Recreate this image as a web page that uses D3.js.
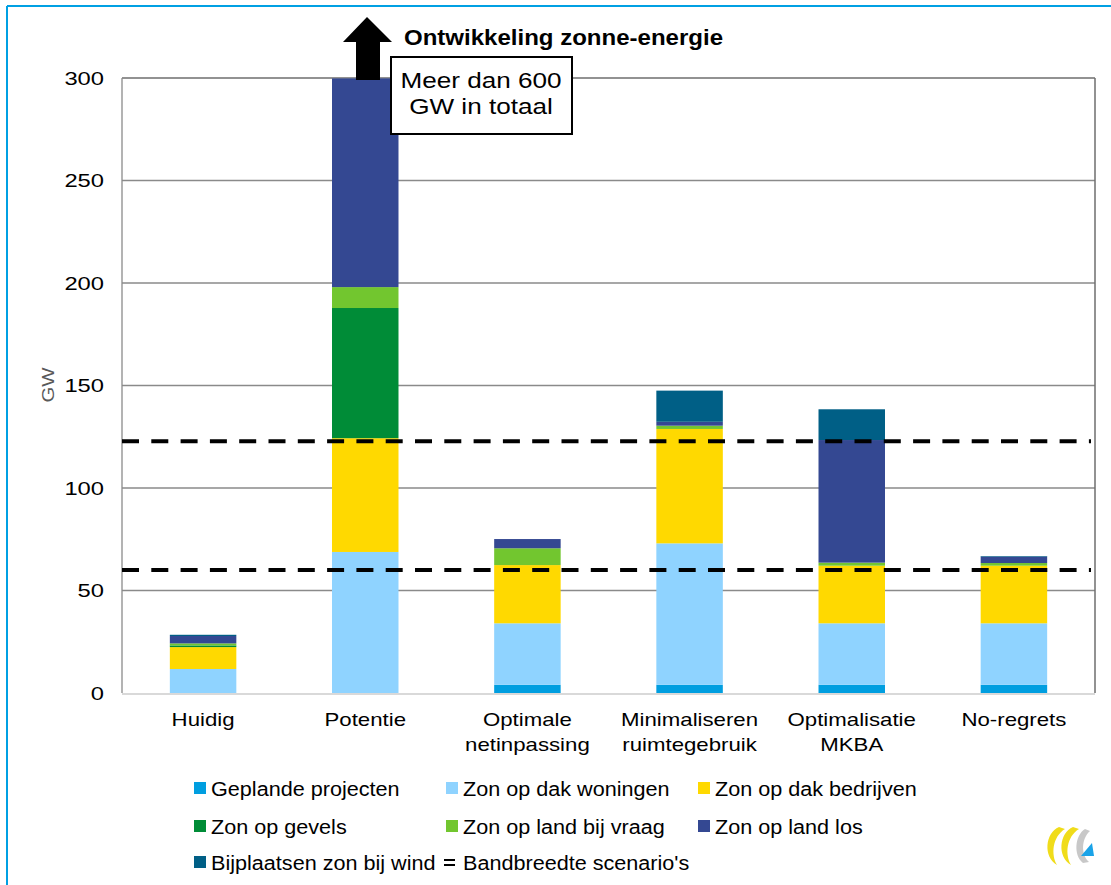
<!DOCTYPE html>
<html><head><meta charset="utf-8">
<script src="https://cdn.jsdelivr.net/npm/d3@7"></script>
<style>
body{margin:0;background:#fff;}
svg{display:block;font-family:"Liberation Sans",Arial,sans-serif;}
</style></head>
<body><svg id="chart" width="1111" height="885"></svg>
<script>
// ---------- data ----------
const categories = [["Huidig"],["Potentie"],["Optimale","netinpassing"],["Minimaliseren","ruimtegebruik"],["Optimalisatie","MKBA"],["No-regrets"]];
const seriesNames = ["Geplande projecten","Zon op dak woningen","Zon op dak bedrijven","Zon op gevels","Zon op land bij vraag","Zon op land los","Bijplaatsen zon bij wind"];
const geplande  = [0,    0,     4,    4,    4,    4];
const woningen  = [11.7, 68.8,  30,   69,   30,   30];
const bedrijven = [10.7, 55.5,  28.4, 55.8, 28.1, 28.1];
const gevels    = [0.8,  63.5,  0,    0,    0,    0];
const vraag     = [1.0,  10.2,  8.2,  1.6,  1.5,  1.3];
const los       = [3.6,  101.8, 4.5,  1.9,  59.8, 3.1];
const wind      = [0.6,  0,     0,    15.2, 15.0, 0.3];
const bandwidthLines = [60, 122.8];
const yTicks = [0, 50, 100, 150, 200, 250, 300];
const colors = ["#009ee0","#8fd3ff","#ffd900","#008c37","#72c62f","#344892","#005f86"];

// ---------- layout ----------
const svg = d3.select("#chart");
const L = 122, R = 1095, T = 78, B = 693;
const seriesVals = [geplande, woningen, bedrijven, gevels, vraag, los, wind];
const rows = categories.map((c,i)=>{ const o={cat:i}; seriesNames.forEach((s,j)=>o[s]=seriesVals[j][i]); return o; });
const stack = d3.stack().keys(seriesNames)(rows);

const x = d3.scaleBand().domain(d3.range(categories.length)).range([L,R]).paddingInner(0.59).paddingOuter(0.295);
const y = d3.scaleLinear().domain([0,300]).range([B,T]);

// horizontally stretch text to match wide rendering of reference
function stretch(sel, f){
  sel.each(function(){
    const w = this.getComputedTextLength();
    d3.select(this).attr("textLength", w*f).attr("lengthAdjust","spacingAndGlyphs");
  });
}

// outer frame
svg.append("line").attr("x1",7).attr("x2",1111).attr("y1",6).attr("y2",6).attr("stroke","#00a0e3").attr("stroke-width",2);
svg.append("line").attr("x1",7).attr("x2",7).attr("y1",6).attr("y2",885).attr("stroke","#00a0e3").attr("stroke-width",2);

// gridlines
svg.append("g").selectAll("line").data(yTicks.filter(d=>d>0)).join("line")
  .attr("x1",L).attr("x2",R).attr("y1",d=>y(d)).attr("y2",d=>y(d))
  .attr("stroke",d=>d===300?"#6e6e6e":"#8a8a8a").attr("stroke-width",1.3);
// plot border
svg.append("line").attr("x1",L).attr("x2",L).attr("y1",T).attr("y2",B).attr("stroke","#8a8a8a").attr("stroke-width",1.3);
svg.append("line").attr("x1",R).attr("x2",R).attr("y1",T).attr("y2",B).attr("stroke","#6e6e6e").attr("stroke-width",1.5);
svg.append("line").attr("x1",L).attr("x2",R).attr("y1",B+1).attr("y2",B+1).attr("stroke","#d9d9d9").attr("stroke-width",2);

// bars
svg.append("g").selectAll("g").data(stack).join("g").attr("fill",(d,i)=>colors[i])
  .selectAll("rect").data(d=>d).join("rect")
  .attr("x",d=>x(d.data.cat)).attr("width",x.bandwidth())
  .attr("y",d=>y(d[1])).attr("height",d=>Math.max(0,y(d[0])-y(d[1])));

// dashed bandwidth lines
svg.append("g").selectAll("line").data(bandwidthLines).join("line")
  .attr("x1",L).attr("x2",R-4).attr("y1",d=>y(d)).attr("y2",d=>y(d))
  .attr("stroke","#000").attr("stroke-width",3.8).attr("stroke-dasharray","17,12.3");

// y axis labels
const yAxis = svg.append("g").attr("transform",`translate(${L},0)`)
  .call(d3.axisLeft(y).tickValues(yTicks).tickSize(0).tickPadding(18));
yAxis.select(".domain").remove();
yAxis.selectAll("text").attr("font-size",19).attr("fill","#000").attr("font-family","Liberation Sans, Arial, sans-serif");
stretch(yAxis.selectAll("text"), 1.25);

const gw = svg.append("text").attr("transform","translate(54,385) rotate(-90)").attr("text-anchor","middle")
  .attr("font-size",17).attr("fill","#595959").text("GW");
stretch(gw, 1.2);

// category labels
const cl = svg.append("g");
categories.forEach((c,i)=>{
  c.forEach((line,k)=>{
    const t = cl.append("text").attr("x",x(i)+x.bandwidth()/2).attr("y",726+k*25).attr("text-anchor","middle")
      .attr("font-size",18.5).attr("fill","#000").text(line);
    stretch(t, 1.2);
  });
});

// arrow
svg.append("path").attr("d","M356,80 L380,80 L380,42 L392,42 L367,17 L343,42 L356,42 Z").attr("fill","#000");

// box
svg.append("rect").attr("x",391).attr("y",57).attr("width",181).attr("height",77).attr("fill","#fff").attr("stroke","#000").attr("stroke-width",2);
const b1 = svg.append("text").attr("x",481).attr("y",88).attr("text-anchor","middle").attr("font-size",22.5).text("Meer dan 600");
const b2 = svg.append("text").attr("x",481).attr("y",114).attr("text-anchor","middle").attr("font-size",22.5).text("GW in totaal");
stretch(b1, 1.16); stretch(b2, 1.16);

// title
svg.append("text").attr("x",404).attr("y",45).attr("font-size",22).attr("font-weight","bold")
  .attr("font-family","Liberation Sans Narrow, Arial Narrow, Liberation Sans, Arial, sans-serif")
  .attr("textLength",319).attr("lengthAdjust","spacingAndGlyphs").text("Ontwikkeling zonne-energie");

// legend
const legendItems = seriesNames.map((n,i)=>({name:n,color:colors[i]})).concat([{name:"Bandbreedte scenario's",dash:true}]);
const colX = [194, 446, 698], rowY = [789, 827, 863];
const lg = svg.append("g");
legendItems.forEach((d,i)=>{
  const cx = colX[i%3], cy = rowY[Math.floor(i/3)];
  if(d.dash){
    lg.append("rect").attr("x",cx-2).attr("y",cy-4).attr("width",11).attr("height",2).attr("fill","#000");
    lg.append("rect").attr("x",cx-2).attr("y",cy+1).attr("width",11).attr("height",2).attr("fill","#000");
  } else {
    lg.append("rect").attr("x",cx).attr("y",cy-7).attr("width",12).attr("height",12).attr("fill",d.color);
  }
  const t = lg.append("text").attr("x",cx+17).attr("y",cy+7).attr("font-size",20).attr("fill","#000").text(d.name);
  stretch(t, 1.08);
});

// logo
const logo = svg.append("g").attr("transform","translate(1043,825)");
logo.append("path").attr("d","M16,2 C2,8 0,32 14,40 C8,30 9,12 22,4 Z").attr("fill","#f0dc1a");
logo.append("path").attr("d","M30,2 C16,8 14,32 28,40 C22,30 23,12 36,4 Z").attr("fill","#f0dc1a");
logo.append("path").attr("d","M42,4 C32,10 30,30 40,38 L46,37 C38,30 38,14 47,6 Z").attr("fill","#c8c8c8");
logo.append("path").attr("d","M38,31 L49,18 L51,31 Z").attr("fill","#1aa3e8");
</script></body></html>
